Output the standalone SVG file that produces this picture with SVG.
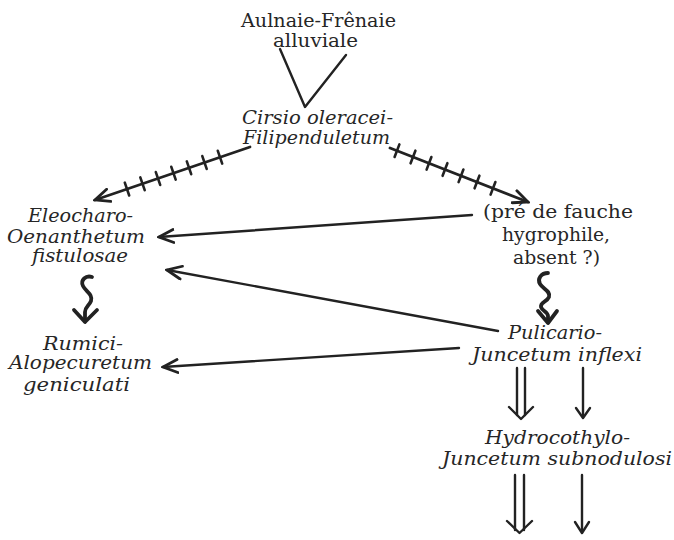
<svg xmlns="http://www.w3.org/2000/svg" width="674" height="540" viewBox="0 0 674 540">
<style>
text{font-family:"DejaVu Serif","Liberation Serif",serif;fill:#262626;font-size:19px}
.it{font-style:italic;font-size:18px}
.up{font-size:19px}
.ln{fill:none;stroke:#222;stroke-width:2.4;stroke-linecap:round;stroke-linejoin:round}
.hl{fill:none;stroke:#222;stroke-width:2.8;stroke-linecap:round}
.tk{fill:none;stroke:#222;stroke-width:2.6;stroke-linecap:round}
.sq{fill:none;stroke:#222;stroke-width:3.8;stroke-linecap:round;stroke-linejoin:round}
</style>
<defs>
<marker id="ah" viewBox="0 0 18 16" refX="16" refY="8" markerWidth="18" markerHeight="16" markerUnits="userSpaceOnUse" orient="auto">
<path d="M1.5,1.5 L16,8 L1.5,14.5" fill="none" stroke="#222" stroke-width="2.8" stroke-linecap="round" stroke-linejoin="miter"/>
</marker>
</defs>
<rect width="674" height="540" fill="#ffffff"/>

<g id="n-aulnaie">
<text class="up" x="241" y="27" textLength="155" lengthAdjust="spacingAndGlyphs">Aulnaie-Frênaie</text>
<text class="up" x="273" y="47" textLength="85" lengthAdjust="spacingAndGlyphs">alluviale</text>
</g>
<g id="n-cirsio">
<text class="it" x="242" y="124" textLength="151" lengthAdjust="spacingAndGlyphs">Cirsio  oleracei-</text>
<text class="it" x="243" y="144" textLength="147" lengthAdjust="spacingAndGlyphs">Filipenduletum</text>
</g>
<g id="n-eleocharo">
<text class="it" x="28" y="222" textLength="105" lengthAdjust="spacingAndGlyphs">Eleocharo-</text>
<text class="it" x="7" y="243" textLength="138" lengthAdjust="spacingAndGlyphs">Oenanthetum</text>
<text class="it" x="32" y="262" textLength="96" lengthAdjust="spacingAndGlyphs">fistulosae</text>
</g>
<g id="n-pre">
<text class="up" x="483" y="218" textLength="150" lengthAdjust="spacingAndGlyphs">(pré  de  fauche</text>
<text class="up" x="502" y="241" textLength="108" lengthAdjust="spacingAndGlyphs">hygrophile,</text>
<text class="up" x="513" y="264" textLength="87" lengthAdjust="spacingAndGlyphs">absent ?)</text>
</g>
<g id="n-rumici">
<text class="it" x="43" y="350" textLength="80" lengthAdjust="spacingAndGlyphs">Rumici-</text>
<text class="it" x="9" y="369" textLength="143" lengthAdjust="spacingAndGlyphs">Alopecuretum</text>
<text class="it" x="23" y="391" textLength="107" lengthAdjust="spacingAndGlyphs">geniculati</text>
</g>
<g id="n-pulicario">
<text class="it" x="508" y="339" textLength="94" lengthAdjust="spacingAndGlyphs">Pulicario-</text>
<text class="it" x="472" y="361" textLength="170" lengthAdjust="spacingAndGlyphs">Juncetum  inflexi</text>
</g>
<g id="n-hydrocothylo">
<text class="it" x="485" y="444" textLength="145" lengthAdjust="spacingAndGlyphs">Hydrocothylo-</text>
<text class="it" x="442" y="465" textLength="230" lengthAdjust="spacingAndGlyphs">Juncetum  subnodulosi</text>
</g>

<g id="connectors">
<!-- V from Aulnaie to Cirsio -->
<polyline class="ln" points="280,49 305,107 346,55" stroke-width="2.8"/>
<!-- hatched left -->
<line class="hl" x1="250" y1="147" x2="95" y2="200" marker-end="url(#ah)"/>
<g class="tk">
<line x1="124.8" y1="182.7" x2="129.2" y2="195.5"/>
<line x1="140.3" y1="177.4" x2="144.7" y2="190.2"/>
<line x1="155.8" y1="172.1" x2="160.2" y2="184.9"/>
<line x1="171.3" y1="166.8" x2="175.7" y2="179.6"/>
<line x1="186.8" y1="161.4" x2="191.2" y2="174.2"/>
<line x1="202.3" y1="156.1" x2="206.7" y2="168.9"/>
<line x1="217.8" y1="150.8" x2="222.2" y2="163.6"/>
</g>
<!-- hatched right -->
<line class="hl" x1="390" y1="148" x2="528" y2="202" marker-end="url(#ah)"/>
<g class="tk">
<line x1="399.4" y1="144.4" x2="394.6" y2="157.0"/>
<line x1="415.4" y1="150.7" x2="410.6" y2="163.3"/>
<line x1="431.4" y1="157.0" x2="426.6" y2="169.6"/>
<line x1="447.4" y1="163.2" x2="442.6" y2="175.8"/>
<line x1="463.4" y1="169.5" x2="458.6" y2="182.1"/>
<line x1="479.4" y1="175.7" x2="474.6" y2="188.3"/>
<line x1="495.4" y1="182.0" x2="490.6" y2="194.6"/>
</g>
<!-- plain arrows -->
<line class="ln" x1="472" y1="215" x2="159" y2="237" marker-end="url(#ah)"/>
<line class="ln" x1="498" y1="331" x2="167" y2="270" marker-end="url(#ah)"/>
<line class="ln" x1="459" y1="348" x2="163" y2="367" marker-end="url(#ah)"/>
<!-- squiggle left -->
<path class="sq" d="M92,277 C86,275 80,280 83,286 C86,292 93,294 91,301 C89,306 85,307 85,312 L85,321"/>
<polyline class="sq" points="74,310 85,322 97,310"/>
<!-- squiggle right -->
<path class="sq" d="M548,273 C541,273 537,279 540,284 C543,289 551,291 549,297 C547,302 540,302 541,307 C542,311 548,312 548,316 L548,322"/>
<polyline class="sq" stroke-width="3.2" points="538,311 548,323 557,311"/>
<!-- double + single arrows below Pulicario -->
<line class="ln" x1="517" y1="368" x2="517" y2="415"/>
<line class="ln" x1="525" y1="368" x2="525" y2="415"/>
<polyline class="ln" stroke-width="2.8" points="509,407 521,419 533,407"/>
<line class="ln" x1="583" y1="368" x2="583" y2="417"/>
<polyline class="ln" stroke-width="2.8" points="576,408 583,418 590,408"/>
<!-- double + single arrows below Hydrocothylo -->
<line class="ln" x1="515" y1="475" x2="515" y2="530"/>
<line class="ln" x1="524" y1="475" x2="524" y2="530"/>
<polyline class="ln" stroke-width="2.8" points="507,521 519.5,533 532,521"/>
<line class="ln" x1="582" y1="475" x2="582" y2="532"/>
<polyline class="ln" stroke-width="2.8" points="575,522 582,533 589,522"/>
</g>
</svg>
